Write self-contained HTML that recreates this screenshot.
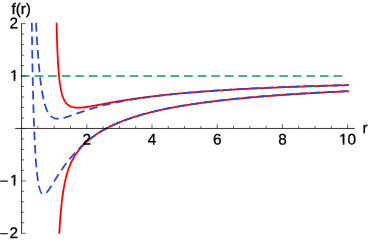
<!DOCTYPE html>
<html><head><meta charset="utf-8"><title>f(r)</title>
<style>
html,body{margin:0;padding:0;background:#fff;}
body{width:368px;height:242px;overflow:hidden;font-family:"Liberation Sans",sans-serif;}
svg{display:block;will-change:transform;}
text{font-family:"Liberation Sans",sans-serif;fill:#000;}
</style></head><body>
<svg width="368" height="242" viewBox="0 0 368 242">
<rect width="368" height="242" fill="#fff"/>
<g fill="none" stroke-width="1.8" stroke-linecap="butt" stroke-linejoin="round">
<g fill="#30ac6e" stroke="none"><rect x="21.60" y="75.125" width="8.05" height="1.75"/><rect x="34.54" y="75.125" width="8.70" height="1.75"/><rect x="48.14" y="75.125" width="8.70" height="1.75"/><rect x="61.73" y="75.125" width="8.70" height="1.75"/><rect x="75.32" y="75.125" width="8.70" height="1.75"/><rect x="88.92" y="75.125" width="8.70" height="1.75"/><rect x="102.51" y="75.125" width="8.70" height="1.75"/><rect x="116.10" y="75.125" width="8.70" height="1.75"/><rect x="129.69" y="75.125" width="8.70" height="1.75"/><rect x="143.29" y="75.125" width="8.70" height="1.75"/><rect x="156.88" y="75.125" width="8.70" height="1.75"/><rect x="170.47" y="75.125" width="8.70" height="1.75"/><rect x="184.07" y="75.125" width="8.70" height="1.75"/><rect x="197.66" y="75.125" width="8.70" height="1.75"/><rect x="211.25" y="75.125" width="8.70" height="1.75"/><rect x="224.85" y="75.125" width="8.70" height="1.75"/><rect x="238.44" y="75.125" width="8.70" height="1.75"/><rect x="252.03" y="75.125" width="8.70" height="1.75"/><rect x="265.62" y="75.125" width="8.70" height="1.75"/><rect x="279.22" y="75.125" width="8.70" height="1.75"/><rect x="292.81" y="75.125" width="8.70" height="1.75"/><rect x="306.40" y="75.125" width="8.70" height="1.75"/><rect x="320.00" y="75.125" width="8.70" height="1.75"/><rect x="333.59" y="75.125" width="8.70" height="1.75"/></g>
<path d="M56.59 22.80 L56.60 23.30 L56.61 23.80 L56.62 24.30 L56.63 24.80 L56.64 25.30 L56.65 25.80 L56.67 26.30 L56.68 26.80 L56.69 27.30 L56.70 27.80 L56.71 28.30 L56.73 28.80 L56.74 29.30 L56.75 29.80 L56.76 30.30 L56.78 30.80 L56.79 31.30 L56.80 31.80 L56.82 32.30 L56.83 32.80 L56.84 33.29 L56.86 33.79 L56.87 34.29 L56.89 34.79 L56.90 35.29 L56.91 35.79 L56.93 36.29 L56.94 36.79 L56.96 37.29 L56.97 37.79 L56.99 38.29 L57.00 38.79 L57.02 39.29 L57.04 39.79 L57.05 40.29 L57.07 40.79 L57.08 41.29 L57.10 41.79 L57.12 42.29 L57.13 42.79 L57.15 43.29 L57.17 43.79 L57.18 44.29 L57.20 44.79 L57.22 45.29 L57.24 45.79 L57.26 46.29 L57.27 46.79 L57.29 47.29 L57.31 47.78 L57.33 48.28 L57.35 48.78 L57.37 49.28 L57.39 49.78 L57.41 50.28 L57.43 50.78 L57.45 51.28 L57.47 51.78 L57.49 52.28 L57.51 52.78 L57.54 53.28 L57.56 53.78 L57.58 54.28 L57.60 54.78 L57.63 55.28 L57.65 55.78 L57.67 56.28 L57.70 56.77 L57.72 57.27 L57.75 57.77 L57.77 58.27 L57.80 58.77 L57.82 59.27 L57.85 59.77 L57.88 60.27 L57.90 60.77 L57.93 61.27 L57.96 61.77 L57.99 62.27 L58.02 62.77 L58.05 63.26 L58.08 63.76 L58.11 64.26 L58.14 64.76 L58.17 65.26 L58.20 65.76 L58.23 66.26 L58.27 66.76 L58.30 67.26 L58.34 67.75 L58.37 68.25 L58.41 68.75 L58.44 69.25 L58.48 69.75 L58.52 70.25 L58.55 70.75 L58.59 71.24 L58.63 71.74 L58.67 72.24 L58.72 72.74 L58.76 73.24 L58.80 73.73 L58.85 74.23 L58.89 74.73 L58.94 75.23 L58.98 75.73 L59.03 76.22 L59.08 76.72 L59.13 77.22 L59.18 77.72 L59.23 78.21 L59.29 78.71 L59.34 79.21 L59.40 79.70 L59.46 80.20 L59.52 80.70 L59.58 81.19 L59.64 81.69 L59.70 82.18 L59.77 82.68 L59.83 83.18 L59.90 83.67 L59.97 84.17 L60.05 84.66 L60.12 85.15 L60.20 85.65 L60.27 86.14 L60.35 86.64 L60.44 87.13 L60.52 87.62 L60.61 88.11 L60.70 88.61 L60.80 89.10 L60.89 89.59 L60.99 90.08 L61.10 90.57 L61.20 91.05 L61.31 91.54 L61.43 92.03 L61.55 92.51 L61.67 93.00 L61.80 93.48 L61.93 93.96 L62.07 94.44 L62.21 94.92 L62.36 95.40 L62.51 95.88 L62.67 96.35 L62.84 96.82 L63.01 97.29 L63.20 97.76 L63.39 98.22 L63.58 98.68 L63.79 99.13 L64.01 99.58 L64.24 100.03 L64.47 100.47 L64.72 100.90 L64.98 101.33 L65.25 101.75 L65.54 102.16 L65.83 102.56 L66.15 102.95 L66.47 103.33 L66.81 103.70 L67.16 104.06 L67.52 104.40 L67.90 104.72 L68.29 105.04 L68.70 105.33 L69.11 105.61 L69.54 105.87 L69.98 106.11 L70.43 106.33 L70.89 106.52 L71.36 106.70 L71.83 106.86 L72.31 107.00 L72.79 107.13 L73.28 107.24 L73.77 107.34 L74.26 107.42 L74.76 107.50 L75.25 107.56 L75.75 107.61 L76.25 107.65 L76.75 107.68 L77.25 107.71 L77.75 107.72 L78.25 107.73 L78.75 107.73 L79.25 107.72 L79.75 107.71 L80.24 107.69 L80.74 107.66 L81.24 107.62 L81.74 107.57 L82.24 107.53 L82.73 107.48 L83.23 107.42 L83.73 107.36 L84.22 107.30 L84.72 107.24 L85.22 107.17 L85.71 107.11 L86.21 107.04 L86.70 106.96 L87.20 106.89 L87.69 106.81 L88.18 106.73 L88.68 106.66 L89.17 106.57 L89.66 106.49 L90.16 106.41 L90.65 106.33 L91.14 106.24 L91.63 106.15 L92.13 106.07 L92.62 105.98 L93.11 105.89 L93.60 105.80 L94.09 105.71 L94.59 105.62 L95.08 105.53 L95.57 105.44 L96.06 105.35 L96.55 105.25 L97.04 105.16 L97.53 105.07 L98.03 104.98 L98.52 104.88 L99.01 104.79 L99.50 104.70 L99.99 104.61 L100.48 104.51 L100.97 104.42 L101.46 104.33 L101.95 104.23 L102.45 104.14 L102.94 104.05 L103.43 103.95 L103.92 103.86 L104.41 103.77 L104.90 103.68 L105.39 103.58 L105.88 103.49 L106.38 103.40 L106.87 103.31 L107.36 103.22 L107.85 103.12 L108.34 103.03 L108.83 102.94 L109.32 102.85 L109.82 102.76 L110.31 102.67 L110.80 102.58 L111.29 102.49 L111.78 102.41 L112.28 102.32 L112.77 102.23 L113.26 102.14 L113.75 102.05 L114.25 101.97 L114.74 101.88 L115.23 101.79 L115.72 101.71 L116.21 101.62 L116.71 101.54 L117.20 101.45 L117.69 101.37 L118.19 101.28 L118.68 101.20 L119.17 101.12 L119.66 101.03 L120.16 100.95 L120.65 100.87 L121.14 100.78 L121.64 100.70 L122.13 100.62 L122.62 100.54 L123.12 100.46 L123.61 100.38 L124.10 100.30 L124.60 100.22 L125.09 100.14 L125.58 100.06 L126.08 99.98 L126.57 99.91 L127.07 99.83 L127.56 99.75 L128.05 99.67 L128.55 99.60 L129.04 99.52 L129.54 99.45 L130.03 99.37 L130.52 99.30 L131.02 99.22 L131.51 99.15 L132.01 99.07 L132.50 99.00 L133.00 98.93 L133.49 98.85 L133.99 98.78 L134.48 98.71 L134.97 98.64 L135.47 98.57 L135.96 98.50 L136.46 98.43 L136.95 98.36 L137.45 98.29 L137.94 98.22 L138.44 98.15 L138.93 98.08 L139.43 98.01 L139.93 97.94 L140.42 97.88 L140.92 97.81 L141.41 97.74 L141.91 97.67 L142.40 97.61 L142.90 97.54 L143.39 97.48 L143.89 97.41 L144.38 97.35 L144.88 97.28 L145.38 97.22 L145.87 97.15 L146.37 97.09 L146.86 97.03 L147.36 96.96 L147.86 96.90 L148.35 96.84 L148.85 96.78 L149.34 96.72 L149.84 96.65 L150.34 96.59 L150.83 96.53 L151.33 96.47 L151.82 96.41 L152.32 96.35 L152.82 96.29 L153.31 96.23 L153.81 96.17 L154.31 96.11 L154.80 96.05 L155.30 96.00 L155.80 95.94 L156.29 95.88 L156.79 95.82 L157.29 95.77 L157.78 95.71 L158.28 95.65 L158.78 95.60 L159.27 95.54 L159.77 95.48 L160.27 95.43 L160.76 95.37 L161.26 95.32 L161.76 95.27 L162.25 95.21 L162.75 95.16 L163.25 95.10 L163.75 95.05 L164.24 95.00 L164.74 94.94 L165.24 94.89 L165.73 94.84 L166.23 94.79 L166.73 94.73 L167.23 94.68 L167.72 94.63 L168.22 94.58 L168.72 94.53 L169.21 94.48 L169.71 94.43 L170.21 94.38 L170.71 94.33 L171.20 94.28 L171.70 94.23 L172.20 94.18 L172.70 94.13 L173.19 94.08 L173.69 94.03 L174.19 93.98 L174.69 93.94 L175.18 93.89 L175.68 93.84 L176.18 93.79 L176.68 93.75 L177.17 93.70 L177.67 93.65 L178.17 93.61 L178.67 93.56 L179.17 93.51 L179.66 93.47 L180.16 93.42 L180.66 93.38 L181.16 93.33 L181.66 93.29 L182.15 93.24 L182.65 93.20 L183.15 93.15 L183.65 93.11 L184.14 93.07 L184.64 93.02 L185.14 92.98 L185.64 92.94 L186.14 92.89 L186.63 92.85 L187.13 92.81 L187.63 92.76 L188.13 92.72 L188.63 92.68 L189.13 92.64 L189.62 92.60 L190.12 92.55 L190.62 92.51 L191.12 92.47 L191.62 92.43 L192.11 92.39 L192.61 92.35 L193.11 92.31 L193.61 92.27 L194.11 92.23 L194.61 92.19 L195.10 92.15 L195.60 92.11 L196.10 92.07 L196.60 92.03 L197.10 91.99 L197.60 91.95 L198.09 91.91 L198.59 91.88 L199.09 91.84 L199.59 91.80 L200.09 91.76 L200.59 91.72 L201.09 91.69 L201.58 91.65 L202.08 91.61 L202.58 91.58 L203.08 91.54 L203.58 91.50 L204.08 91.47 L204.58 91.43 L205.07 91.39 L205.57 91.36 L206.07 91.32 L206.57 91.29 L207.07 91.25 L207.57 91.22 L208.07 91.18 L208.56 91.15 L209.06 91.11 L209.56 91.08 L210.06 91.04 L210.56 91.01 L211.06 90.97 L211.56 90.94 L212.06 90.91 L212.55 90.87 L213.05 90.84 L213.55 90.81 L214.05 90.77 L214.55 90.74 L215.05 90.71 L215.55 90.67 L216.05 90.64 L216.55 90.61 L217.04 90.58 L217.54 90.54 L218.04 90.51 L218.54 90.48 L219.04 90.45 L219.54 90.42 L220.04 90.38 L220.54 90.35 L221.04 90.32 L221.53 90.29 L222.03 90.26 L222.53 90.23 L223.03 90.20 L223.53 90.17 L224.03 90.14 L224.53 90.10 L225.03 90.07 L225.53 90.04 L226.02 90.01 L226.52 89.98 L227.02 89.95 L227.52 89.92 L228.02 89.89 L228.52 89.86 L229.02 89.84 L229.52 89.81 L230.02 89.78 L230.52 89.75 L231.02 89.72 L231.51 89.69 L232.01 89.66 L232.51 89.63 L233.01 89.60 L233.51 89.58 L234.01 89.55 L234.51 89.52 L235.01 89.49 L235.51 89.46 L236.01 89.43 L236.51 89.41 L237.00 89.38 L237.50 89.35 L238.00 89.32 L238.50 89.30 L239.00 89.27 L239.50 89.24 L240.00 89.22 L240.50 89.19 L241.00 89.16 L241.50 89.13 L242.00 89.11 L242.50 89.08 L242.99 89.06 L243.49 89.03 L243.99 89.00 L244.49 88.98 L244.99 88.95 L245.49 88.92 L245.99 88.90 L246.49 88.87 L246.99 88.85 L247.49 88.82 L247.99 88.80 L248.49 88.77 L248.99 88.75 L249.48 88.72 L249.98 88.69 L250.48 88.67 L250.98 88.65 L251.48 88.62 L251.98 88.60 L252.48 88.57 L252.98 88.55 L253.48 88.52 L253.98 88.50 L254.48 88.48 L254.98 88.45 L255.48 88.43 L255.98 88.41 L256.48 88.38 L256.97 88.36 L257.47 88.34 L257.97 88.31 L258.47 88.29 L258.97 88.27 L259.47 88.24 L259.97 88.22 L260.47 88.20 L260.97 88.18 L261.47 88.15 L261.97 88.13 L262.47 88.11 L262.97 88.09 L263.47 88.06 L263.97 88.04 L264.47 88.02 L264.97 88.00 L265.46 87.97 L265.96 87.95 L266.46 87.93 L266.96 87.91 L267.46 87.89 L267.96 87.87 L268.46 87.84 L268.96 87.82 L269.46 87.80 L269.96 87.78 L270.46 87.76 L270.96 87.74 L271.46 87.72 L271.96 87.69 L272.46 87.67 L272.96 87.65 L273.46 87.63 L273.96 87.61 L274.45 87.59 L274.95 87.57 L275.45 87.55 L275.95 87.53 L276.45 87.51 L276.95 87.49 L277.45 87.47 L277.95 87.45 L278.45 87.43 L278.95 87.41 L279.45 87.39 L279.95 87.37 L280.45 87.35 L280.95 87.33 L281.45 87.31 L281.95 87.29 L282.45 87.27 L282.95 87.25 L283.45 87.23 L283.95 87.21 L284.44 87.19 L284.94 87.17 L285.44 87.15 L285.94 87.13 L286.44 87.11 L286.94 87.10 L287.44 87.08 L287.94 87.06 L288.44 87.04 L288.94 87.02 L289.44 87.00 L289.94 86.98 L290.44 86.96 L290.94 86.95 L291.44 86.93 L291.94 86.91 L292.44 86.89 L292.94 86.87 L293.44 86.85 L293.94 86.84 L294.44 86.82 L294.94 86.80 L295.44 86.78 L295.93 86.76 L296.43 86.75 L296.93 86.73 L297.43 86.71 L297.93 86.69 L298.43 86.67 L298.93 86.66 L299.43 86.64 L299.93 86.62 L300.43 86.60 L300.93 86.59 L301.43 86.57 L301.93 86.55 L302.43 86.53 L302.93 86.52 L303.43 86.50 L303.93 86.48 L304.43 86.47 L304.93 86.45 L305.43 86.43 L305.93 86.42 L306.43 86.40 L306.93 86.38 L307.43 86.37 L307.93 86.35 L308.43 86.33 L308.92 86.32 L309.42 86.30 L309.92 86.28 L310.42 86.27 L310.92 86.25 L311.42 86.23 L311.92 86.22 L312.42 86.20 L312.92 86.18 L313.42 86.17 L313.92 86.15 L314.42 86.14 L314.92 86.12 L315.42 86.10 L315.92 86.09 L316.42 86.07 L316.92 86.06 L317.42 86.04 L317.92 86.03 L318.42 86.01 L318.92 85.99 L319.42 85.98 L319.92 85.96 L320.42 85.95 L320.92 85.93 L321.42 85.92 L321.92 85.90 L322.42 85.89 L322.92 85.87 L323.41 85.86 L323.91 85.84 L324.41 85.83 L324.91 85.81 L325.41 85.80 L325.91 85.78 L326.41 85.77 L326.91 85.75 L327.41 85.74 L327.91 85.72 L328.41 85.71 L328.91 85.69 L329.41 85.68 L329.91 85.66 L330.41 85.65 L330.91 85.63 L331.41 85.62 L331.91 85.60 L332.41 85.59 L332.91 85.57 L333.41 85.56 L333.91 85.55 L334.41 85.53 L334.91 85.52 L335.41 85.50 L335.91 85.49 L336.41 85.48 L336.91 85.46 L337.41 85.45 L337.91 85.43 L338.41 85.42 L338.91 85.40 L339.41 85.39 L339.90 85.38 L340.40 85.36 L340.90 85.35 L341.40 85.34 L341.90 85.32 L342.40 85.31 L342.90 85.29 L343.40 85.28 L343.90 85.27 L344.40 85.25 L344.90 85.24 L345.40 85.23 L345.90 85.21 L346.40 85.20 L346.90 85.19 L347.40 85.17 L347.90 85.16 L348.40 85.15 L348.90 85.13" stroke="#ff0000"/>
<path d="M59.27 233.80 L59.29 233.30 L59.32 232.80 L59.35 232.30 L59.38 231.80 L59.41 231.30 L59.44 230.81 L59.47 230.31 L59.50 229.81 L59.54 229.31 L59.57 228.81 L59.60 228.31 L59.63 227.81 L59.66 227.31 L59.69 226.81 L59.73 226.32 L59.76 225.82 L59.79 225.32 L59.83 224.82 L59.86 224.32 L59.90 223.82 L59.93 223.32 L59.97 222.82 L60.00 222.32 L60.04 221.83 L60.07 221.33 L60.11 220.83 L60.15 220.33 L60.18 219.83 L60.22 219.33 L60.26 218.83 L60.30 218.34 L60.33 217.84 L60.37 217.34 L60.41 216.84 L60.45 216.34 L60.49 215.84 L60.53 215.35 L60.57 214.85 L60.62 214.35 L60.66 213.85 L60.70 213.35 L60.74 212.86 L60.79 212.36 L60.83 211.86 L60.88 211.36 L60.92 210.86 L60.97 210.37 L61.01 209.87 L61.06 209.37 L61.10 208.87 L61.15 208.37 L61.20 207.88 L61.25 207.38 L61.30 206.88 L61.35 206.38 L61.40 205.89 L61.45 205.39 L61.50 204.89 L61.55 204.39 L61.61 203.90 L61.66 203.40 L61.71 202.90 L61.77 202.41 L61.82 201.91 L61.88 201.41 L61.94 200.92 L62.00 200.42 L62.05 199.92 L62.11 199.43 L62.18 198.93 L62.24 198.43 L62.30 197.94 L62.36 197.44 L62.43 196.95 L62.49 196.45 L62.56 195.96 L62.63 195.46 L62.69 194.97 L62.76 194.47 L62.83 193.98 L62.91 193.48 L62.98 192.99 L63.05 192.49 L63.13 192.00 L63.20 191.50 L63.28 191.01 L63.36 190.51 L63.44 190.02 L63.52 189.53 L63.60 189.03 L63.68 188.54 L63.76 188.05 L63.85 187.56 L63.94 187.06 L64.03 186.57 L64.12 186.08 L64.21 185.59 L64.30 185.10 L64.39 184.61 L64.49 184.12 L64.59 183.63 L64.69 183.14 L64.79 182.65 L64.89 182.16 L65.00 181.67 L65.10 181.18 L65.21 180.69 L65.32 180.20 L65.44 179.72 L65.55 179.23 L65.67 178.74 L65.79 178.26 L65.91 177.77 L66.03 177.29 L66.15 176.80 L66.28 176.32 L66.41 175.84 L66.54 175.35 L66.67 174.87 L66.80 174.39 L66.94 173.91 L67.08 173.43 L67.22 172.95 L67.37 172.47 L67.52 171.99 L67.67 171.52 L67.82 171.04 L67.98 170.57 L68.13 170.09 L68.30 169.62 L68.46 169.15 L68.63 168.68 L68.80 168.21 L68.97 167.74 L69.15 167.27 L69.33 166.81 L69.52 166.34 L69.70 165.88 L69.90 165.42 L70.09 164.95 L70.28 164.49 L70.48 164.03 L70.68 163.58 L70.89 163.12 L71.09 162.67 L71.31 162.21 L71.52 161.76 L71.74 161.31 L71.96 160.86 L72.19 160.42 L72.42 159.97 L72.65 159.53 L72.89 159.09 L73.13 158.65 L73.37 158.22 L73.62 157.78 L73.87 157.35 L74.12 156.92 L74.38 156.49 L74.64 156.06 L74.91 155.64 L75.18 155.22 L75.45 154.80 L75.73 154.38 L76.01 153.97 L76.29 153.56 L76.58 153.15 L76.87 152.74 L77.16 152.34 L77.46 151.93 L77.76 151.53 L78.06 151.14 L78.37 150.74 L78.68 150.35 L78.99 149.96 L79.31 149.57 L79.63 149.19 L79.95 148.81 L80.27 148.43 L80.60 148.05 L80.93 147.68 L81.27 147.30 L81.61 146.94 L81.95 146.57 L82.29 146.20 L82.63 145.84 L82.97 145.48 L83.32 145.12 L83.67 144.76 L84.02 144.41 L84.38 144.05 L84.74 143.71 L85.10 143.36 L85.46 143.01 L85.82 142.67 L86.19 142.33 L86.56 141.99 L86.93 141.66 L87.30 141.33 L87.68 141.00 L88.06 140.67 L88.44 140.34 L88.82 140.02 L89.20 139.70 L89.59 139.38 L89.97 139.06 L90.36 138.75 L90.75 138.44 L91.14 138.13 L91.54 137.82 L91.93 137.51 L92.33 137.21 L92.73 136.91 L93.13 136.61 L93.53 136.31 L93.94 136.02 L94.34 135.73 L94.75 135.44 L95.16 135.15 L95.57 134.86 L95.98 134.58 L96.39 134.29 L96.81 134.01 L97.22 133.74 L97.64 133.46 L98.06 133.18 L98.47 132.91 L98.89 132.64 L99.32 132.37 L99.74 132.11 L100.16 131.84 L100.59 131.59 L101.02 131.33 L101.45 131.07 L101.88 130.82 L102.32 130.57 L102.75 130.32 L103.19 130.08 L103.62 129.83 L104.06 129.59 L104.50 129.35 L104.93 129.11 L105.37 128.87 L105.81 128.63 L106.26 128.40 L106.70 128.17 L107.14 127.93 L107.59 127.71 L108.03 127.48 L108.48 127.25 L108.92 127.03 L109.37 126.81 L109.82 126.58 L110.27 126.37 L110.72 126.15 L111.17 125.93 L111.62 125.72 L112.07 125.50 L112.53 125.29 L112.98 125.08 L113.44 124.87 L113.89 124.67 L114.35 124.46 L114.80 124.26 L115.26 124.06 L115.72 123.85 L116.18 123.65 L116.64 123.46 L117.09 123.26 L117.56 123.06 L118.02 122.87 L118.48 122.68 L118.94 122.49 L119.40 122.30 L119.86 122.11 L120.33 121.92 L120.79 121.74 L121.26 121.55 L121.72 121.37 L122.19 121.19 L122.65 121.01 L123.12 120.83 L123.59 120.65 L124.06 120.47 L124.52 120.30 L124.99 120.12 L125.46 119.95 L125.93 119.78 L126.40 119.61 L126.87 119.44 L127.34 119.27 L127.81 119.10 L128.29 118.94 L128.76 118.77 L129.23 118.61 L129.70 118.44 L130.18 118.28 L130.65 118.12 L131.12 117.96 L131.60 117.81 L132.07 117.65 L132.55 117.49 L133.02 117.34 L133.50 117.18 L133.97 117.03 L134.45 116.88 L134.93 116.73 L135.40 116.58 L135.88 116.43 L136.36 116.28 L136.84 116.14 L137.31 115.99 L137.79 115.84 L138.27 115.70 L138.75 115.56 L139.23 115.42 L139.71 115.27 L140.19 115.13 L140.67 115.00 L141.15 114.86 L141.63 114.72 L142.11 114.58 L142.59 114.45 L143.07 114.31 L143.56 114.18 L144.04 114.05 L144.52 113.91 L145.00 113.78 L145.49 113.65 L145.97 113.52 L146.45 113.39 L146.93 113.27 L147.42 113.14 L147.90 113.01 L148.39 112.89 L148.87 112.76 L149.35 112.64 L149.84 112.52 L150.32 112.39 L150.81 112.27 L151.29 112.15 L151.78 112.03 L152.27 111.92 L152.75 111.80 L153.24 111.68 L153.72 111.56 L154.21 111.45 L154.70 111.33 L155.18 111.22 L155.67 111.11 L156.16 110.99 L156.64 110.88 L157.13 110.77 L157.62 110.66 L158.11 110.55 L158.60 110.44 L159.08 110.33 L159.57 110.22 L160.06 110.12 L160.55 110.01 L161.04 109.90 L161.53 109.80 L162.01 109.69 L162.50 109.59 L162.99 109.49 L163.48 109.38 L163.97 109.28 L164.46 109.18 L164.95 109.08 L165.44 108.98 L165.93 108.88 L166.42 108.78 L166.91 108.68 L167.40 108.58 L167.89 108.49 L168.38 108.39 L168.87 108.29 L169.36 108.20 L169.85 108.10 L170.34 108.01 L170.84 107.91 L171.33 107.82 L171.82 107.73 L172.31 107.63 L172.80 107.54 L173.29 107.45 L173.78 107.36 L174.28 107.27 L174.77 107.18 L175.26 107.09 L175.75 107.00 L176.24 106.91 L176.73 106.82 L177.23 106.74 L177.72 106.65 L178.21 106.56 L178.70 106.48 L179.20 106.39 L179.69 106.31 L180.18 106.22 L180.68 106.14 L181.17 106.05 L181.66 105.97 L182.15 105.89 L182.65 105.81 L183.14 105.72 L183.63 105.64 L184.13 105.56 L184.62 105.48 L185.11 105.40 L185.61 105.32 L186.10 105.24 L186.59 105.16 L187.09 105.09 L187.58 105.01 L188.08 104.93 L188.57 104.85 L189.06 104.78 L189.56 104.70 L190.05 104.62 L190.55 104.55 L191.04 104.47 L191.54 104.40 L192.03 104.32 L192.52 104.25 L193.02 104.18 L193.51 104.10 L194.01 104.03 L194.50 103.96 L195.00 103.89 L195.49 103.82 L195.99 103.74 L196.48 103.67 L196.98 103.60 L197.47 103.53 L197.97 103.46 L198.46 103.39 L198.96 103.32 L199.45 103.26 L199.95 103.19 L200.44 103.12 L200.94 103.05 L201.43 102.98 L201.93 102.91 L202.42 102.84 L202.92 102.77 L203.41 102.71 L203.91 102.64 L204.40 102.57 L204.90 102.51 L205.40 102.44 L205.89 102.37 L206.39 102.31 L206.88 102.24 L207.38 102.18 L207.87 102.11 L208.37 102.05 L208.87 101.98 L209.36 101.92 L209.86 101.86 L210.35 101.79 L210.85 101.73 L211.35 101.67 L211.84 101.61 L212.34 101.54 L212.83 101.48 L213.33 101.42 L213.83 101.36 L214.32 101.30 L214.82 101.24 L215.31 101.18 L215.81 101.12 L216.31 101.06 L216.80 101.00 L217.30 100.94 L217.80 100.88 L218.29 100.82 L218.79 100.76 L219.29 100.71 L219.78 100.65 L220.28 100.59 L220.78 100.53 L221.27 100.48 L221.77 100.42 L222.27 100.36 L222.76 100.31 L223.26 100.25 L223.76 100.19 L224.25 100.14 L224.75 100.08 L225.25 100.03 L225.74 99.97 L226.24 99.92 L226.74 99.86 L227.24 99.81 L227.73 99.76 L228.23 99.70 L228.73 99.65 L229.22 99.60 L229.72 99.54 L230.22 99.49 L230.71 99.44 L231.21 99.38 L231.71 99.33 L232.21 99.28 L232.70 99.23 L233.20 99.18 L233.70 99.13 L234.20 99.08 L234.69 99.02 L235.19 98.97 L235.69 98.92 L236.19 98.87 L236.68 98.82 L237.18 98.77 L237.68 98.72 L238.18 98.68 L238.67 98.63 L239.17 98.58 L239.67 98.53 L240.17 98.48 L240.66 98.43 L241.16 98.38 L241.66 98.34 L242.16 98.29 L242.65 98.24 L243.15 98.19 L243.65 98.15 L244.15 98.10 L244.64 98.05 L245.14 98.01 L245.64 97.96 L246.14 97.91 L246.64 97.87 L247.13 97.82 L247.63 97.78 L248.13 97.73 L248.63 97.68 L249.12 97.64 L249.62 97.59 L250.12 97.55 L250.62 97.51 L251.12 97.46 L251.61 97.42 L252.11 97.37 L252.61 97.33 L253.11 97.29 L253.61 97.24 L254.10 97.20 L254.60 97.16 L255.10 97.11 L255.60 97.07 L256.10 97.03 L256.60 96.98 L257.09 96.94 L257.59 96.90 L258.09 96.86 L258.59 96.82 L259.09 96.77 L259.58 96.73 L260.08 96.69 L260.58 96.65 L261.08 96.61 L261.58 96.57 L262.08 96.53 L262.57 96.49 L263.07 96.45 L263.57 96.41 L264.07 96.37 L264.57 96.33 L265.07 96.29 L265.56 96.25 L266.06 96.21 L266.56 96.17 L267.06 96.13 L267.56 96.09 L268.06 96.05 L268.55 96.01 L269.05 95.97 L269.55 95.93 L270.05 95.89 L270.55 95.86 L271.05 95.82 L271.55 95.78 L272.04 95.74 L272.54 95.70 L273.04 95.67 L273.54 95.63 L274.04 95.59 L274.54 95.56 L275.03 95.52 L275.53 95.48 L276.03 95.44 L276.53 95.41 L277.03 95.37 L277.53 95.33 L278.03 95.30 L278.53 95.26 L279.02 95.23 L279.52 95.19 L280.02 95.15 L280.52 95.12 L281.02 95.08 L281.52 95.05 L282.02 95.01 L282.51 94.98 L283.01 94.94 L283.51 94.91 L284.01 94.87 L284.51 94.84 L285.01 94.80 L285.51 94.77 L286.01 94.74 L286.50 94.70 L287.00 94.67 L287.50 94.63 L288.00 94.60 L288.50 94.57 L289.00 94.53 L289.50 94.50 L290.00 94.47 L290.50 94.43 L290.99 94.40 L291.49 94.37 L291.99 94.33 L292.49 94.30 L292.99 94.27 L293.49 94.23 L293.99 94.20 L294.49 94.17 L294.98 94.14 L295.48 94.11 L295.98 94.07 L296.48 94.04 L296.98 94.01 L297.48 93.98 L297.98 93.95 L298.48 93.91 L298.98 93.88 L299.48 93.85 L299.97 93.82 L300.47 93.79 L300.97 93.76 L301.47 93.73 L301.97 93.70 L302.47 93.67 L302.97 93.64 L303.47 93.61 L303.97 93.58 L304.47 93.55 L304.96 93.52 L305.46 93.49 L305.96 93.46 L306.46 93.43 L306.96 93.40 L307.46 93.37 L307.96 93.34 L308.46 93.31 L308.96 93.28 L309.46 93.26 L309.96 93.23 L310.45 93.20 L310.95 93.17 L311.45 93.14 L311.95 93.11 L312.45 93.08 L312.95 93.06 L313.45 93.03 L313.95 93.00 L314.45 92.97 L314.95 92.94 L315.45 92.92 L315.95 92.89 L316.44 92.86 L316.94 92.83 L317.44 92.81 L317.94 92.78 L318.44 92.75 L318.94 92.72 L319.44 92.70 L319.94 92.67 L320.44 92.64 L320.94 92.62 L321.44 92.59 L321.94 92.56 L322.44 92.54 L322.93 92.51 L323.43 92.48 L323.93 92.46 L324.43 92.43 L324.93 92.41 L325.43 92.38 L325.93 92.35 L326.43 92.33 L326.93 92.30 L327.43 92.28 L327.93 92.25 L328.43 92.22 L328.93 92.20 L329.42 92.17 L329.92 92.15 L330.42 92.12 L330.92 92.10 L331.42 92.07 L331.92 92.05 L332.42 92.02 L332.92 92.00 L333.42 91.97 L333.92 91.95 L334.42 91.92 L334.92 91.90 L335.42 91.87 L335.92 91.85 L336.42 91.82 L336.91 91.80 L337.41 91.78 L337.91 91.75 L338.41 91.73 L338.91 91.70 L339.41 91.68 L339.91 91.66 L340.41 91.63 L340.91 91.61 L341.41 91.58 L341.91 91.56 L342.41 91.54 L342.91 91.51 L343.41 91.49 L343.91 91.47 L344.41 91.44 L344.90 91.42 L345.40 91.40 L345.90 91.37 L346.40 91.35 L346.90 91.33 L347.40 91.30 L347.90 91.28 L348.40 91.26 L348.90 91.24" stroke="#ff0000"/>
<path d="M35.99 22.80 L36.01 23.30 L36.04 23.80 L36.07 24.30 L36.09 24.80 L36.12 25.30 L36.15 25.80 L36.18 26.29 L36.21 26.79 L36.23 27.29 L36.26 27.79 L36.29 28.29 L36.32 28.79 L36.35 29.29 L36.37 29.79 L36.40 30.29 L36.43 30.79 L36.46 31.29 L36.49 31.78 L36.52 32.28 L36.55 32.78 L36.58 33.28 L36.61 33.78 L36.64 34.28 L36.67 34.78 L36.70 35.28 L36.73 35.78 L36.76 36.28 L36.79 36.78 L36.82 37.27 L36.85 37.77 L36.88 38.27 L36.91 38.77 L36.94 39.27 L36.98 39.77 L37.01 40.27 L37.04 40.77 L37.07 41.27 L37.10 41.77 L37.14 42.26 L37.17 42.76 L37.20 43.26 L37.23 43.76 L37.27 44.26 L37.30 44.76 L37.33 45.26 L37.37 45.76 L37.40 46.25 L37.44 46.75 L37.47 47.25 L37.51 47.75 L37.54 48.25 L37.58 48.75 L37.61 49.25 L37.65 49.75 L37.68 50.24 L37.72 50.74 L37.76 51.24 L37.79 51.74 L37.83 52.24 L37.87 52.74 L37.90 53.24 L37.94 53.73 L37.98 54.23 L38.02 54.73 L38.05 55.23 L38.09 55.73 L38.13 56.23 L38.17 56.73 L38.21 57.22 L38.25 57.72 L38.29 58.22 L38.33 58.72 L38.37 59.22 L38.41 59.72 L38.45 60.21 L38.49 60.71 L38.54 61.21 L38.58 61.71 L38.62 62.21 L38.66 62.70 L38.71 63.20 L38.75 63.70 L38.79 64.20 L38.84 64.70 L38.88 65.19 L38.93 65.69 L38.97 66.19 L39.02 66.69 L39.07 67.19 L39.11 67.68 L39.16 68.18 L39.21 68.68 L39.26 69.18 L39.30 69.67 L39.35 70.17 L39.40 70.67 L39.45 71.17 L39.50 71.66 L39.55 72.16 L39.60 72.66 L39.66 73.16 L39.71 73.65 L39.76 74.15 L39.81 74.65 L39.87 75.14 L39.92 75.64 L39.98 76.14 L40.03 76.64 L40.09 77.13 L40.15 77.63 L40.20 78.13 L40.26 78.62 L40.32 79.12 L40.38 79.62 L40.44 80.11 L40.50 80.61 L40.56 81.10 L40.62 81.60 L40.69 82.10 L40.75 82.59 L40.81 83.09 L40.88 83.58 L40.95 84.08 L41.01 84.57 L41.08 85.07 L41.15 85.56 L41.22 86.06 L41.29 86.55 L41.36 87.05 L41.43 87.54 L41.51 88.04 L41.58 88.53 L41.66 89.03 L41.74 89.52 L41.81 90.01 L41.89 90.51 L41.97 91.00 L42.06 91.50 L42.14 91.99 L42.22 92.48 L42.31 92.97 L42.40 93.47 L42.48 93.96 L42.57 94.45 L42.67 94.94 L42.76 95.43 L42.85 95.92 L42.95 96.41 L43.05 96.90 L43.15 97.39 L43.25 97.88 L43.36 98.37 L43.47 98.86 L43.57 99.35 L43.69 99.84 L43.80 100.32 L43.91 100.81 L44.03 101.29 L44.16 101.78 L44.28 102.26 L44.41 102.75 L44.54 103.23 L44.67 103.71 L44.81 104.19 L44.95 104.67 L45.09 105.15 L45.24 105.63 L45.39 106.10 L45.55 106.58 L45.71 107.05 L45.88 107.52 L46.05 107.99 L46.23 108.46 L46.41 108.93 L46.60 109.39 L46.79 109.85 L46.99 110.31 L47.20 110.76 L47.42 111.21 L47.65 111.66 L47.88 112.10 L48.13 112.53 L48.38 112.97 L48.64 113.39 L48.92 113.81 L49.21 114.22 L49.51 114.61 L49.82 115.00 L50.15 115.38 L50.49 115.75 L50.85 116.09 L51.22 116.43 L51.61 116.74 L52.01 117.04 L52.43 117.31 L52.86 117.56 L53.31 117.79 L53.77 117.99 L54.23 118.17 L54.71 118.32 L55.19 118.45 L55.68 118.55 L56.18 118.63 L56.67 118.68 L57.17 118.72 L57.67 118.74 L58.17 118.73 L58.67 118.72 L59.17 118.68 L59.67 118.64 L60.16 118.58 L60.66 118.51 L61.15 118.43 L61.65 118.34 L62.14 118.24 L62.62 118.13 L63.11 118.02 L63.60 117.90 L64.08 117.77 L64.56 117.64 L65.04 117.51 L65.53 117.37 L66.00 117.23 L66.48 117.08 L66.96 116.93 L67.44 116.78 L67.91 116.63 L68.39 116.47 L68.86 116.31 L69.33 116.15 L69.81 115.99 L70.28 115.83 L70.75 115.67 L71.23 115.51 L71.70 115.35 L72.17 115.18 L72.65 115.02 L73.12 114.86 L73.59 114.69 L74.06 114.53 L74.53 114.36 L75.01 114.20 L75.48 114.03 L75.95 113.87 L76.42 113.70 L76.89 113.54 L77.37 113.37 L77.84 113.21 L78.31 113.04 L78.78 112.88 L79.25 112.72 L79.73 112.55 L80.20 112.39 L80.67 112.23 L81.15 112.07 L81.62 111.91 L82.09 111.75 L82.57 111.59 L83.04 111.43 L83.52 111.27 L83.99 111.11 L84.46 110.96 L84.94 110.80 L85.42 110.65 L85.89 110.49 L86.37 110.34 L86.84 110.19 L87.32 110.03 L87.80 109.88 L88.27 109.73 L88.75 109.58 L89.23 109.44 L89.70 109.29 L90.18 109.14 L90.66 108.99 L91.14 108.85 L91.62 108.70 L92.09 108.55 L92.57 108.41 L93.05 108.27 L93.53 108.12 L94.01 107.98 L94.49 107.84 L94.97 107.70 L95.45 107.56 L95.93 107.43 L96.41 107.29 L96.89 107.15 L97.37 107.02 L97.86 106.88 L98.34 106.75 L98.82 106.62 L99.30 106.49 L99.79 106.36 L100.27 106.23 L100.75 106.10 L101.23 105.97 L101.72 105.84 L102.20 105.72 L102.69 105.59 L103.17 105.47 L103.65 105.34 L104.14 105.22 L104.62 105.10 L105.11 104.98 L105.59 104.86 L106.08 104.74 L106.57 104.62 L107.05 104.50 L107.54 104.39 L108.02 104.27 L108.51 104.15 L109.00 104.04 L109.48 103.93 L109.97 103.81 L110.46 103.70 L110.95 103.59 L111.43 103.49 L111.92 103.38 L112.41 103.27 L112.90 103.16 L113.39 103.06 L113.88 102.95 L114.37 102.85 L114.85 102.74 L115.34 102.64 L115.83 102.54 L116.32 102.44 L116.81 102.34 L117.30 102.24 L117.79 102.14 L118.28 102.04 L118.77 101.94 L119.26 101.84 L119.75 101.75 L120.24 101.65 L120.74 101.56 L121.23 101.46 L121.72 101.37 L122.21 101.28 L122.70 101.18 L123.19 101.09 L123.68 101.00 L124.18 100.91 L124.67 100.82 L125.16 100.73 L125.65 100.64 L126.14 100.56 L126.64 100.47 L127.13 100.38 L127.62 100.30 L128.11 100.21 L128.61 100.13 L129.10 100.04 L129.59 99.96 L130.08 99.88 L130.58 99.79 L131.07 99.71 L131.56 99.63 L132.06 99.55 L132.55 99.47 L133.04 99.39 L133.54 99.31 L134.03 99.23 L134.53 99.16 L135.02 99.08 L135.51 99.00 L136.01 98.93 L136.50 98.85 L137.00 98.78 L137.49 98.70 L137.99 98.63 L138.48 98.55 L138.97 98.48 L139.47 98.41 L139.96 98.33 L140.46 98.26 L140.95 98.19 L141.45 98.12 L141.94 98.05 L142.44 97.98 L142.93 97.91 L143.43 97.84 L143.92 97.77 L144.42 97.71 L144.91 97.64 L145.41 97.57 L145.91 97.51 L146.40 97.44 L146.90 97.37 L147.39 97.31 L147.89 97.24 L148.38 97.18 L148.88 97.12 L149.38 97.05 L149.87 96.99 L150.37 96.92 L150.86 96.85 L151.36 96.79 L151.85 96.72 L152.35 96.65 L152.84 96.59 L153.34 96.52 L153.84 96.46 L154.33 96.39 L154.83 96.33 L155.32 96.27 L155.82 96.20 L156.32 96.14 L156.81 96.08 L157.31 96.01 L157.80 95.95 L158.30 95.89 L158.80 95.83 L159.29 95.77 L159.79 95.71 L160.28 95.65 L160.78 95.59 L161.28 95.53 L161.77 95.47 L162.27 95.41 L162.77 95.35 L163.26 95.29 L163.76 95.23 L164.26 95.18 L164.75 95.12 L165.25 95.06 L165.75 95.00 L166.24 94.95 L166.74 94.89 L167.24 94.84 L167.73 94.78 L168.23 94.73 L168.73 94.67 L169.22 94.62 L169.72 94.56 L170.22 94.51 L170.72 94.45 L171.21 94.40 L171.71 94.35 L172.21 94.30 L172.70 94.24 L173.20 94.19 L173.70 94.14 L174.20 94.09 L174.69 94.04 L175.19 93.98 L175.69 93.93 L176.18 93.88 L176.68 93.83 L177.18 93.78 L177.68 93.73 L178.17 93.68 L178.67 93.63 L179.17 93.59 L179.67 93.54 L180.16 93.49 L180.66 93.44 L181.16 93.39 L181.66 93.34 L182.16 93.30 L182.65 93.25 L183.15 93.20 L183.65 93.16 L184.15 93.11 L184.64 93.06 L185.14 93.02 L185.64 92.97 L186.14 92.92 L186.64 92.88 L187.13 92.83 L187.63 92.79 L188.13 92.74 L188.63 92.70 L189.13 92.66 L189.62 92.61 L190.12 92.57 L190.62 92.52 L191.12 92.48 L191.62 92.44 L192.11 92.39 L192.61 92.35 L193.11 92.31 L193.61 92.27 L194.11 92.22 L194.60 92.18 L195.10 92.14 L195.60 92.10 L196.10 92.06 L196.60 92.02 L197.10 91.98 L197.59 91.94 L198.09 91.89 L198.59 91.85 L199.09 91.81 L199.59 91.77 L200.09 91.73 L200.58 91.70 L201.08 91.66 L201.58 91.62 L202.08 91.58 L202.58 91.54 L203.08 91.50 L203.57 91.46 L204.07 91.43 L204.57 91.39 L205.07 91.35 L205.57 91.31 L206.07 91.28 L206.57 91.24 L207.06 91.20 L207.56 91.17 L208.06 91.13 L208.56 91.09 L209.06 91.06 L209.56 91.02 L210.06 90.99 L210.56 90.95 L211.05 90.91 L211.55 90.88 L212.05 90.84 L212.55 90.81 L213.05 90.77 L213.55 90.74 L214.05 90.70 L214.54 90.67 L215.04 90.64 L215.54 90.60 L216.04 90.57 L216.54 90.53 L217.04 90.50 L217.54 90.47 L218.04 90.43 L218.54 90.40 L219.03 90.37 L219.53 90.33 L220.03 90.30 L220.53 90.27 L221.03 90.24 L221.53 90.20 L222.03 90.17 L222.53 90.14 L223.03 90.11 L223.52 90.08 L224.02 90.04 L224.52 90.01 L225.02 89.98 L225.52 89.95 L226.02 89.92 L226.52 89.89 L227.02 89.86 L227.52 89.83 L228.01 89.79 L228.51 89.76 L229.01 89.73 L229.51 89.70 L230.01 89.67 L230.51 89.64 L231.01 89.61 L231.51 89.58 L232.01 89.55 L232.51 89.52 L233.01 89.50 L233.50 89.47 L234.00 89.44 L234.50 89.41 L235.00 89.38 L235.50 89.35 L236.00 89.32 L236.50 89.29 L237.00 89.26 L237.50 89.24 L238.00 89.21 L238.50 89.18 L239.00 89.15 L239.49 89.12 L239.99 89.10 L240.49 89.07 L240.99 89.04 L241.49 89.01 L241.99 88.99 L242.49 88.96 L242.99 88.93 L243.49 88.90 L243.99 88.88 L244.49 88.85 L244.99 88.82 L245.48 88.80 L245.98 88.77 L246.48 88.74 L246.98 88.72 L247.48 88.69 L247.98 88.67 L248.48 88.64 L248.98 88.61 L249.48 88.59 L249.98 88.56 L250.48 88.54 L250.98 88.51 L251.48 88.49 L251.98 88.46 L252.47 88.44 L252.97 88.41 L253.47 88.39 L253.97 88.36 L254.47 88.34 L254.97 88.32 L255.47 88.29 L255.97 88.27 L256.47 88.24 L256.97 88.22 L257.47 88.20 L257.97 88.17 L258.47 88.15 L258.97 88.13 L259.47 88.10 L259.97 88.08 L260.46 88.06 L260.96 88.03 L261.46 88.01 L261.96 87.99 L262.46 87.96 L262.96 87.94 L263.46 87.92 L263.96 87.90 L264.46 87.87 L264.96 87.85 L265.46 87.83 L265.96 87.81 L266.46 87.78 L266.96 87.76 L267.46 87.74 L267.96 87.72 L268.46 87.69 L268.96 87.67 L269.45 87.65 L269.95 87.63 L270.45 87.61 L270.95 87.59 L271.45 87.56 L271.95 87.54 L272.45 87.52 L272.95 87.50 L273.45 87.48 L273.95 87.46 L274.45 87.44 L274.95 87.42 L275.45 87.40 L275.95 87.38 L276.45 87.35 L276.95 87.33 L277.45 87.31 L277.95 87.29 L278.45 87.27 L278.95 87.25 L279.44 87.23 L279.94 87.21 L280.44 87.19 L280.94 87.17 L281.44 87.15 L281.94 87.13 L282.44 87.11 L282.94 87.09 L283.44 87.07 L283.94 87.05 L284.44 87.03 L284.94 87.01 L285.44 86.99 L285.94 86.97 L286.44 86.95 L286.94 86.94 L287.44 86.92 L287.94 86.90 L288.44 86.88 L288.94 86.86 L289.44 86.84 L289.94 86.82 L290.44 86.80 L290.93 86.78 L291.43 86.77 L291.93 86.75 L292.43 86.73 L292.93 86.71 L293.43 86.69 L293.93 86.67 L294.43 86.65 L294.93 86.64 L295.43 86.62 L295.93 86.60 L296.43 86.58 L296.93 86.56 L297.43 86.55 L297.93 86.53 L298.43 86.51 L298.93 86.49 L299.43 86.47 L299.93 86.46 L300.43 86.44 L300.93 86.42 L301.43 86.40 L301.93 86.39 L302.43 86.37 L302.93 86.35 L303.43 86.33 L303.93 86.32 L304.42 86.30 L304.92 86.28 L305.42 86.27 L305.92 86.25 L306.42 86.23 L306.92 86.21 L307.42 86.20 L307.92 86.18 L308.42 86.16 L308.92 86.15 L309.42 86.13 L309.92 86.11 L310.42 86.10 L310.92 86.08 L311.42 86.06 L311.92 86.05 L312.42 86.03 L312.92 86.02 L313.42 86.00 L313.92 85.98 L314.42 85.97 L314.92 85.95 L315.42 85.94 L315.92 85.92 L316.42 85.90 L316.92 85.89 L317.42 85.87 L317.92 85.86 L318.42 85.84 L318.92 85.82 L319.42 85.81 L319.91 85.79 L320.41 85.78 L320.91 85.76 L321.41 85.75 L321.91 85.73 L322.41 85.72 L322.91 85.70 L323.41 85.68 L323.91 85.67 L324.41 85.65 L324.91 85.64 L325.41 85.62 L325.91 85.61 L326.41 85.59 L326.91 85.58 L327.41 85.56 L327.91 85.55 L328.41 85.53 L328.91 85.52 L329.41 85.50 L329.91 85.49 L330.41 85.48 L330.91 85.46 L331.41 85.45 L331.91 85.43 L332.41 85.42 L332.91 85.40 L333.41 85.39 L333.91 85.37 L334.41 85.36 L334.91 85.35 L335.41 85.33 L335.91 85.32 L336.41 85.30 L336.91 85.29 L337.41 85.27 L337.91 85.26 L338.40 85.25 L338.90 85.23 L339.40 85.22 L339.90 85.20 L340.40 85.19 L340.90 85.18 L341.40 85.16 L341.90 85.15 L342.40 85.14 L342.90 85.12 L343.40 85.11 L343.90 85.10 L344.40 85.08 L344.90 85.07 L345.40 85.05 L345.90 85.04 L346.40 85.03 L346.90 85.01 L347.40 85.00 L347.90 84.99 L348.40 84.97 L348.90 84.96" stroke="#2d4bd4" stroke-dasharray="8.7 4.893" stroke-dashoffset="-0.1"/>
<path d="M31.83 22.80 L31.84 23.30 L31.84 23.80 L31.85 24.30 L31.85 24.80 L31.86 25.30 L31.87 25.80 L31.87 26.30 L31.88 26.80 L31.89 27.30 L31.89 27.80 L31.90 28.30 L31.91 28.80 L31.91 29.30 L31.92 29.80 L31.93 30.30 L31.93 30.80 L31.94 31.30 L31.95 31.79 L31.95 32.29 L31.96 32.79 L31.97 33.29 L31.97 33.79 L31.98 34.29 L31.99 34.79 L31.99 35.29 L32.00 35.79 L32.01 36.29 L32.01 36.79 L32.02 37.29 L32.03 37.79 L32.03 38.29 L32.04 38.79 L32.05 39.29 L32.06 39.79 L32.06 40.29 L32.07 40.79 L32.08 41.29 L32.08 41.79 L32.09 42.29 L32.10 42.79 L32.11 43.29 L32.11 43.79 L32.12 44.29 L32.13 44.79 L32.14 45.29 L32.14 45.79 L32.15 46.29 L32.16 46.79 L32.17 47.29 L32.17 47.79 L32.18 48.29 L32.19 48.79 L32.20 49.28 L32.20 49.78 L32.21 50.28 L32.22 50.78 L32.23 51.28 L32.24 51.78 L32.24 52.28 L32.25 52.78 L32.26 53.28 L32.27 53.78 L32.28 54.28 L32.28 54.78 L32.29 55.28 L32.30 55.78 L32.31 56.28 L32.32 56.78 L32.33 57.28 L32.33 57.78 L32.34 58.28 L32.35 58.78 L32.36 59.28 L32.37 59.78 L32.38 60.28 L32.38 60.78 L32.39 61.28 L32.40 61.78 L32.41 62.28 L32.42 62.78 L32.43 63.28 L32.44 63.78 L32.45 64.28 L32.46 64.78 L32.46 65.27 L32.47 65.77 L32.48 66.27 L32.49 66.77 L32.50 67.27 L32.51 67.77 L32.52 68.27 L32.53 68.77 L32.54 69.27 L32.55 69.77 L32.56 70.27 L32.57 70.77 L32.58 71.27 L32.59 71.77 L32.60 72.27 L32.61 72.77 L32.61 73.27 L32.62 73.77 L32.63 74.27 L32.64 74.77 L32.65 75.27 L32.66 75.77 L32.67 76.27 L32.68 76.77 L32.70 77.27 L32.71 77.77 L32.72 78.27 L32.73 78.77 L32.74 79.27 L32.75 79.77 L32.76 80.26 L32.77 80.76 L32.78 81.26 L32.79 81.76 L32.80 82.26 L32.81 82.76 L32.82 83.26 L32.83 83.76 L32.84 84.26 L32.85 84.76 L32.87 85.26 L32.88 85.76 L32.89 86.26 L32.90 86.76 L32.91 87.26 L32.92 87.76 L32.93 88.26 L32.95 88.76 L32.96 89.26 L32.97 89.76 L32.98 90.26 L32.99 90.76 L33.00 91.26 L33.02 91.76 L33.03 92.26 L33.04 92.76 L33.05 93.26 L33.07 93.75 L33.08 94.25 L33.09 94.75 L33.10 95.25 L33.12 95.75 L33.13 96.25 L33.14 96.75 L33.15 97.25 L33.17 97.75 L33.18 98.25 L33.19 98.75 L33.21 99.25 L33.22 99.75 L33.23 100.25 L33.25 100.75 L33.26 101.25 L33.27 101.75 L33.29 102.25 L33.30 102.75 L33.31 103.25 L33.33 103.75 L33.34 104.25 L33.36 104.75 L33.37 105.25 L33.38 105.74 L33.40 106.24 L33.41 106.74 L33.43 107.24 L33.44 107.74 L33.46 108.24 L33.47 108.74 L33.49 109.24 L33.50 109.74 L33.52 110.24 L33.53 110.74 L33.55 111.24 L33.56 111.74 L33.58 112.24 L33.59 112.74 L33.61 113.24 L33.63 113.74 L33.64 114.24 L33.66 114.74 L33.67 115.24 L33.69 115.74 L33.71 116.23 L33.72 116.73 L33.74 117.23 L33.76 117.73 L33.77 118.23 L33.79 118.73 L33.81 119.23 L33.82 119.73 L33.84 120.23 L33.86 120.73 L33.88 121.23 L33.90 121.73 L33.91 122.23 L33.93 122.73 L33.95 123.23 L33.97 123.73 L33.99 124.23 L34.00 124.73 L34.02 125.23 L34.04 125.72 L34.06 126.22 L34.08 126.72 L34.10 127.22 L34.12 127.72 L34.14 128.22 L34.16 128.72 L34.18 129.22 L34.20 129.72 L34.22 130.22 L34.24 130.72 L34.26 131.22 L34.28 131.72 L34.30 132.22 L34.32 132.72 L34.34 133.21 L34.37 133.71 L34.39 134.21 L34.41 134.71 L34.43 135.21 L34.45 135.71 L34.48 136.21 L34.50 136.71 L34.52 137.21 L34.54 137.71 L34.57 138.21 L34.59 138.71 L34.61 139.21 L34.64 139.71 L34.66 140.20 L34.69 140.70 L34.71 141.20 L34.73 141.70 L34.76 142.20 L34.78 142.70 L34.81 143.20 L34.84 143.70 L34.86 144.20 L34.89 144.70 L34.91 145.20 L34.94 145.69 L34.97 146.19 L34.99 146.69 L35.02 147.19 L35.05 147.69 L35.08 148.19 L35.11 148.69 L35.13 149.19 L35.16 149.69 L35.19 150.19 L35.22 150.68 L35.25 151.18 L35.28 151.68 L35.31 152.18 L35.34 152.68 L35.37 153.18 L35.40 153.68 L35.44 154.18 L35.47 154.67 L35.50 155.17 L35.53 155.67 L35.57 156.17 L35.60 156.67 L35.63 157.17 L35.67 157.67 L35.70 158.17 L35.74 158.66 L35.77 159.16 L35.81 159.66 L35.85 160.16 L35.88 160.66 L35.92 161.16 L35.96 161.65 L36.00 162.15 L36.04 162.65 L36.08 163.15 L36.12 163.65 L36.16 164.15 L36.20 164.64 L36.24 165.14 L36.28 165.64 L36.33 166.14 L36.37 166.63 L36.41 167.13 L36.46 167.63 L36.50 168.13 L36.55 168.63 L36.60 169.12 L36.65 169.62 L36.69 170.12 L36.74 170.62 L36.79 171.11 L36.85 171.61 L36.90 172.11 L36.95 172.60 L37.00 173.10 L37.06 173.60 L37.12 174.09 L37.17 174.59 L37.23 175.09 L37.29 175.58 L37.35 176.08 L37.41 176.57 L37.48 177.07 L37.54 177.57 L37.61 178.06 L37.68 178.56 L37.75 179.05 L37.82 179.55 L37.89 180.04 L37.96 180.53 L38.04 181.03 L38.12 181.52 L38.20 182.02 L38.28 182.51 L38.37 183.00 L38.46 183.49 L38.55 183.98 L38.64 184.47 L38.74 184.96 L38.84 185.45 L38.95 185.94 L39.06 186.43 L39.17 186.92 L39.29 187.40 L39.42 187.89 L39.55 188.37 L39.69 188.85 L39.83 189.33 L39.99 189.80 L40.15 190.27 L40.33 190.74 L40.51 191.20 L40.72 191.66 L40.94 192.11 L41.19 192.54 L41.46 192.96 L41.77 193.35 L42.13 193.70 L42.53 194.00 L42.99 194.20 L43.48 194.28 L43.98 194.23 L44.45 194.08 L44.90 193.86 L45.32 193.59 L45.72 193.28 L46.09 192.95 L46.45 192.61 L46.79 192.24 L47.13 191.87 L47.45 191.49 L47.76 191.10 L48.07 190.70 L48.37 190.30 L48.66 189.90 L48.95 189.49 L49.24 189.08 L49.52 188.67 L49.80 188.25 L50.07 187.84 L50.35 187.42 L50.62 187.00 L50.89 186.58 L51.15 186.16 L51.42 185.73 L51.68 185.31 L51.95 184.88 L52.21 184.46 L52.48 184.04 L52.75 183.62 L53.01 183.19 L53.28 182.77 L53.54 182.34 L53.81 181.92 L54.07 181.50 L54.33 181.07 L54.60 180.65 L54.86 180.22 L55.13 179.80 L55.39 179.37 L55.66 178.95 L55.92 178.53 L56.19 178.10 L56.45 177.68 L56.72 177.26 L56.99 176.84 L57.25 176.41 L57.52 175.99 L57.79 175.57 L58.06 175.15 L58.33 174.73 L58.60 174.31 L58.87 173.89 L59.15 173.47 L59.42 173.05 L59.70 172.64 L59.97 172.22 L60.25 171.80 L60.53 171.39 L60.80 170.97 L61.08 170.56 L61.37 170.15 L61.65 169.73 L61.93 169.32 L62.21 168.91 L62.50 168.50 L62.79 168.09 L63.07 167.68 L63.36 167.27 L63.65 166.86 L63.94 166.46 L64.23 166.05 L64.53 165.65 L64.82 165.25 L65.12 164.84 L65.42 164.44 L65.72 164.04 L66.02 163.64 L66.32 163.24 L66.62 162.85 L66.93 162.45 L67.23 162.06 L67.54 161.66 L67.85 161.27 L68.16 160.88 L68.47 160.49 L68.79 160.10 L69.10 159.71 L69.42 159.33 L69.74 158.94 L70.06 158.56 L70.37 158.17 L70.69 157.78 L71.01 157.40 L71.33 157.01 L71.65 156.63 L71.98 156.25 L72.30 155.87 L72.63 155.49 L72.96 155.12 L73.29 154.74 L73.62 154.37 L73.95 153.99 L74.28 153.62 L74.62 153.25 L74.96 152.88 L75.30 152.52 L75.64 152.15 L75.98 151.79 L76.32 151.42 L76.67 151.06 L77.01 150.70 L77.36 150.34 L77.71 149.99 L78.06 149.63 L78.42 149.28 L78.77 148.93 L79.13 148.58 L79.49 148.23 L79.85 147.88 L80.21 147.53 L80.57 147.19 L80.93 146.85 L81.30 146.51 L81.66 146.17 L82.03 145.83 L82.40 145.49 L82.77 145.15 L83.14 144.82 L83.51 144.49 L83.89 144.15 L84.26 143.82 L84.64 143.50 L85.02 143.17 L85.40 142.84 L85.78 142.52 L86.16 142.20 L86.54 141.88 L86.93 141.56 L87.32 141.24 L87.70 140.93 L88.09 140.62 L88.49 140.30 L88.88 139.99 L89.27 139.69 L89.67 139.38 L90.06 139.08 L90.46 138.77 L90.86 138.47 L91.26 138.17 L91.66 137.87 L92.06 137.58 L92.47 137.28 L92.87 136.99 L93.28 136.70 L93.68 136.41 L94.09 136.12 L94.50 135.84 L94.91 135.55 L95.33 135.27 L95.74 134.99 L96.16 134.71 L96.57 134.43 L96.99 134.16 L97.41 133.88 L97.82 133.61 L98.25 133.34 L98.67 133.07 L99.09 132.81 L99.51 132.54 L99.94 132.28 L100.36 132.02 L100.79 131.76 L101.22 131.51 L101.65 131.25 L102.09 131.00 L102.52 130.75 L102.95 130.50 L103.39 130.26 L103.82 130.01 L104.26 129.77 L104.70 129.53 L105.13 129.29 L105.57 129.05 L106.01 128.81 L106.45 128.58 L106.90 128.34 L107.34 128.11 L107.78 127.88 L108.23 127.65 L108.67 127.42 L109.12 127.20 L109.56 126.97 L110.01 126.75 L110.46 126.53 L110.91 126.31 L111.36 126.09 L111.81 125.88 L112.26 125.66 L112.71 125.45 L113.16 125.23 L113.62 125.02 L114.07 124.82 L114.53 124.61 L114.98 124.40 L115.44 124.20 L115.89 123.99 L116.35 123.79 L116.81 123.59 L117.27 123.39 L117.73 123.19 L118.19 123.00 L118.65 122.80 L119.11 122.61 L119.57 122.42 L120.03 122.23 L120.49 122.04 L120.96 121.85 L121.42 121.66 L121.88 121.47 L122.35 121.29 L122.81 121.11 L123.28 120.93 L123.74 120.74 L124.21 120.57 L124.68 120.39 L125.14 120.21 L125.61 120.03 L126.08 119.86 L126.55 119.69 L127.02 119.52 L127.49 119.34 L127.96 119.17 L128.43 119.01 L128.90 118.84 L129.37 118.67 L129.84 118.51 L130.31 118.34 L130.79 118.18 L131.26 118.02 L131.73 117.86 L132.21 117.70 L132.68 117.54 L133.16 117.38 L133.63 117.23 L134.11 117.07 L134.58 116.92 L135.06 116.77 L135.53 116.61 L136.01 116.46 L136.49 116.31 L136.96 116.16 L137.44 116.02 L137.92 115.87 L138.40 115.72 L138.87 115.58 L139.35 115.43 L139.83 115.29 L140.31 115.15 L140.79 115.01 L141.27 114.87 L141.75 114.73 L142.23 114.59 L142.71 114.45 L143.19 114.32 L143.67 114.18 L144.15 114.05 L144.63 113.91 L145.12 113.78 L145.60 113.65 L146.08 113.51 L146.56 113.38 L147.05 113.25 L147.53 113.13 L148.01 113.00 L148.50 112.87 L148.98 112.74 L149.46 112.62 L149.95 112.49 L150.43 112.37 L150.92 112.25 L151.40 112.13 L151.88 112.00 L152.37 111.88 L152.85 111.76 L153.34 111.64 L153.83 111.53 L154.31 111.41 L154.80 111.29 L155.28 111.18 L155.77 111.06 L156.26 110.94 L156.74 110.83 L157.23 110.72 L157.72 110.60 L158.20 110.49 L158.69 110.38 L159.18 110.27 L159.67 110.16 L160.15 110.05 L160.64 109.94 L161.13 109.84 L161.62 109.73 L162.11 109.62 L162.59 109.52 L163.08 109.41 L163.57 109.31 L164.06 109.20 L164.55 109.10 L165.04 109.00 L165.53 108.89 L166.02 108.79 L166.51 108.69 L167.00 108.59 L167.49 108.49 L167.97 108.39 L168.46 108.29 L168.95 108.20 L169.45 108.10 L169.94 108.00 L170.43 107.91 L170.92 107.81 L171.41 107.72 L171.90 107.62 L172.39 107.53 L172.88 107.43 L173.37 107.34 L173.86 107.25 L174.35 107.16 L174.84 107.06 L175.34 106.97 L175.83 106.88 L176.32 106.79 L176.81 106.70 L177.30 106.62 L177.79 106.53 L178.29 106.44 L178.78 106.35 L179.27 106.27 L179.76 106.18 L180.26 106.09 L180.75 106.01 L181.24 105.92 L181.73 105.84 L182.23 105.76 L182.72 105.67 L183.21 105.59 L183.70 105.51 L184.20 105.42 L184.69 105.34 L185.18 105.26 L185.68 105.18 L186.17 105.10 L186.66 105.02 L187.16 104.94 L187.65 104.86 L188.14 104.78 L188.64 104.71 L189.13 104.63 L189.62 104.55 L190.12 104.47 L190.61 104.40 L191.11 104.32 L191.60 104.25 L192.09 104.17 L192.59 104.10 L193.08 104.02 L193.58 103.95 L194.07 103.87 L194.57 103.80 L195.06 103.73 L195.55 103.66 L196.05 103.58 L196.54 103.51 L197.04 103.44 L197.53 103.37 L198.03 103.30 L198.52 103.23 L199.02 103.16 L199.51 103.09 L200.01 103.02 L200.50 102.95 L201.00 102.88 L201.49 102.81 L201.99 102.74 L202.48 102.67 L202.98 102.60 L203.47 102.53 L203.97 102.47 L204.46 102.40 L204.96 102.33 L205.45 102.26 L205.95 102.20 L206.44 102.13 L206.94 102.07 L207.43 102.00 L207.93 101.93 L208.42 101.87 L208.92 101.81 L209.42 101.74 L209.91 101.68 L210.41 101.61 L210.90 101.55 L211.40 101.49 L211.89 101.42 L212.39 101.36 L212.89 101.30 L213.38 101.24 L213.88 101.18 L214.37 101.11 L214.87 101.05 L215.37 100.99 L215.86 100.93 L216.36 100.87 L216.85 100.81 L217.35 100.75 L217.85 100.69 L218.34 100.63 L218.84 100.57 L219.34 100.52 L219.83 100.46 L220.33 100.40 L220.82 100.34 L221.32 100.28 L221.82 100.23 L222.31 100.17 L222.81 100.11 L223.31 100.06 L223.80 100.00 L224.30 99.94 L224.80 99.89 L225.29 99.83 L225.79 99.78 L226.29 99.72 L226.78 99.67 L227.28 99.61 L227.78 99.56 L228.27 99.50 L228.77 99.45 L229.27 99.40 L229.77 99.34 L230.26 99.29 L230.76 99.24 L231.26 99.19 L231.75 99.13 L232.25 99.08 L232.75 99.03 L233.24 98.98 L233.74 98.93 L234.24 98.87 L234.74 98.82 L235.23 98.77 L235.73 98.72 L236.23 98.67 L236.72 98.62 L237.22 98.57 L237.72 98.52 L238.22 98.47 L238.71 98.42 L239.21 98.37 L239.71 98.32 L240.21 98.28 L240.70 98.23 L241.20 98.18 L241.70 98.13 L242.20 98.08 L242.69 98.03 L243.19 97.99 L243.69 97.94 L244.19 97.89 L244.68 97.85 L245.18 97.80 L245.68 97.75 L246.18 97.71 L246.67 97.66 L247.17 97.61 L247.67 97.57 L248.17 97.52 L248.66 97.48 L249.16 97.43 L249.66 97.39 L250.16 97.34 L250.65 97.30 L251.15 97.25 L251.65 97.21 L252.15 97.16 L252.65 97.12 L253.14 97.08 L253.64 97.03 L254.14 96.99 L254.64 96.95 L255.14 96.90 L255.63 96.86 L256.13 96.82 L256.63 96.77 L257.13 96.73 L257.62 96.69 L258.12 96.65 L258.62 96.60 L259.12 96.56 L259.62 96.52 L260.11 96.48 L260.61 96.44 L261.11 96.40 L261.61 96.36 L262.11 96.32 L262.61 96.27 L263.10 96.23 L263.60 96.19 L264.10 96.15 L264.60 96.11 L265.10 96.07 L265.59 96.03 L266.09 95.99 L266.59 95.95 L267.09 95.92 L267.59 95.88 L268.09 95.84 L268.58 95.80 L269.08 95.76 L269.58 95.72 L270.08 95.68 L270.58 95.64 L271.07 95.61 L271.57 95.57 L272.07 95.53 L272.57 95.49 L273.07 95.45 L273.57 95.42 L274.06 95.38 L274.56 95.34 L275.06 95.30 L275.56 95.27 L276.06 95.23 L276.56 95.19 L277.06 95.16 L277.55 95.12 L278.05 95.09 L278.55 95.05 L279.05 95.01 L279.55 94.98 L280.05 94.94 L280.54 94.91 L281.04 94.87 L281.54 94.83 L282.04 94.80 L282.54 94.76 L283.04 94.73 L283.54 94.69 L284.03 94.66 L284.53 94.62 L285.03 94.59 L285.53 94.56 L286.03 94.52 L286.53 94.49 L287.03 94.45 L287.52 94.42 L288.02 94.39 L288.52 94.35 L289.02 94.32 L289.52 94.28 L290.02 94.25 L290.52 94.22 L291.01 94.19 L291.51 94.15 L292.01 94.12 L292.51 94.09 L293.01 94.05 L293.51 94.02 L294.01 93.99 L294.51 93.96 L295.00 93.92 L295.50 93.89 L296.00 93.86 L296.50 93.83 L297.00 93.80 L297.50 93.76 L298.00 93.73 L298.50 93.70 L298.99 93.67 L299.49 93.64 L299.99 93.61 L300.49 93.58 L300.99 93.55 L301.49 93.52 L301.99 93.49 L302.49 93.46 L302.98 93.43 L303.48 93.40 L303.98 93.37 L304.48 93.34 L304.98 93.31 L305.48 93.28 L305.98 93.25 L306.48 93.22 L306.98 93.19 L307.47 93.16 L307.97 93.13 L308.47 93.10 L308.97 93.07 L309.47 93.04 L309.97 93.01 L310.47 92.99 L310.97 92.96 L311.47 92.93 L311.97 92.90 L312.46 92.87 L312.96 92.84 L313.46 92.82 L313.96 92.79 L314.46 92.76 L314.96 92.73 L315.46 92.70 L315.96 92.68 L316.46 92.65 L316.96 92.62 L317.45 92.59 L317.95 92.57 L318.45 92.54 L318.95 92.51 L319.45 92.49 L319.95 92.46 L320.45 92.43 L320.95 92.41 L321.45 92.38 L321.95 92.35 L322.44 92.33 L322.94 92.30 L323.44 92.27 L323.94 92.25 L324.44 92.22 L324.94 92.19 L325.44 92.17 L325.94 92.14 L326.44 92.12 L326.94 92.09 L327.44 92.06 L327.93 92.04 L328.43 92.01 L328.93 91.99 L329.43 91.96 L329.93 91.94 L330.43 91.91 L330.93 91.89 L331.43 91.86 L331.93 91.84 L332.43 91.81 L332.93 91.79 L333.42 91.76 L333.92 91.74 L334.42 91.71 L334.92 91.69 L335.42 91.66 L335.92 91.64 L336.42 91.62 L336.92 91.59 L337.42 91.57 L337.92 91.54 L338.42 91.52 L338.92 91.49 L339.41 91.47 L339.91 91.45 L340.41 91.42 L340.91 91.40 L341.41 91.38 L341.91 91.35 L342.41 91.33 L342.91 91.31 L343.41 91.28 L343.91 91.26 L344.41 91.24 L344.91 91.21 L345.41 91.19 L345.90 91.17 L346.40 91.14 L346.90 91.12 L347.40 91.10 L347.90 91.07 L348.40 91.05 L348.90 91.03" stroke="#2d4bd4" stroke-dasharray="8.7 4.893" stroke-dashoffset="0"/>
</g>
<g fill="none" stroke="#000" stroke-width="0.8">
<path d="M21.6 23.25V233.6"/>
<path d="M15.1 128.45H354.7"/>
<path d="M37.90 128.45v-2.60 M54.20 128.45v-2.60 M70.50 128.45v-2.60 M86.80 128.45v-4.20 M103.10 128.45v-2.60 M119.40 128.45v-2.60 M135.70 128.45v-2.60 M152.00 128.45v-4.20 M168.30 128.45v-2.60 M184.60 128.45v-2.60 M200.90 128.45v-2.60 M217.20 128.45v-4.20 M233.50 128.45v-2.60 M249.80 128.45v-2.60 M266.10 128.45v-2.60 M282.40 128.45v-4.20 M298.70 128.45v-2.60 M315.00 128.45v-2.60 M331.30 128.45v-2.60 M347.60 128.45v-4.20" stroke-width="0.6"/>
<path d="M21.60 233.25h4.20 M21.60 222.77h2.60 M21.60 212.29h2.60 M21.60 201.81h2.60 M21.60 191.33h2.60 M21.60 180.85h4.20 M21.60 170.37h2.60 M21.60 159.89h2.60 M21.60 149.41h2.60 M21.60 138.93h2.60 M21.60 128.45h4.20 M21.60 117.97h2.60 M21.60 107.49h2.60 M21.60 97.01h2.60 M21.60 86.53h2.60 M21.60 76.05h4.20 M21.60 65.57h2.60 M21.60 55.09h2.60 M21.60 44.61h2.60 M21.60 34.13h2.60 M21.60 23.65h4.20" stroke-width="0.6"/>
</g>
<g font-size="15.3px" stroke="#000" stroke-width="0.3">
<text x="11.40" y="13.90" transform="rotate(0.04 11.40 13.90)">f(r)</text>
<text x="9.39" y="28.35" transform="rotate(0.04 9.39 28.35)">2</text>
<text x="9.94" y="80.75" transform="rotate(0.04 9.94 80.75)">1</text>
<text x="9.94" y="185.55" transform="rotate(0.04 9.94 185.55)">1</text><text x="-0.54" y="186.35" stroke-width="0.1" transform="rotate(0.04 -0.54 186.35)">−</text>
<text x="9.39" y="237.95" transform="rotate(0.04 9.39 237.95)">2</text><text x="-0.54" y="238.75" stroke-width="0.1" transform="rotate(0.04 -0.54 238.75)">−</text>
<text x="82.55" y="144.60" transform="rotate(0.04 82.55 144.60)">2</text>
<text x="147.75" y="144.60" transform="rotate(0.04 147.75 144.60)">4</text>
<text x="212.95" y="144.60" transform="rotate(0.04 212.95 144.60)">6</text>
<text x="278.15" y="144.60" transform="rotate(0.04 278.15 144.60)">8</text>
<text x="339.09" y="144.60" transform="rotate(0.04 339.09 144.60)">10</text>
<text x="362.50" y="132.90" transform="rotate(0.04 362.50 132.90)">r</text>
</g>
<g fill="#fff"><rect x="10.00" y="79" width="3.64" height="2"/><rect x="15.29" y="79" width="2.71" height="2"/><rect x="10.00" y="184" width="3.64" height="2"/><rect x="15.29" y="184" width="2.71" height="2"/><rect x="340.00" y="143" width="2.79" height="2"/><rect x="344.44" y="143" width="3.56" height="2"/></g>
</svg>
</body></html>
